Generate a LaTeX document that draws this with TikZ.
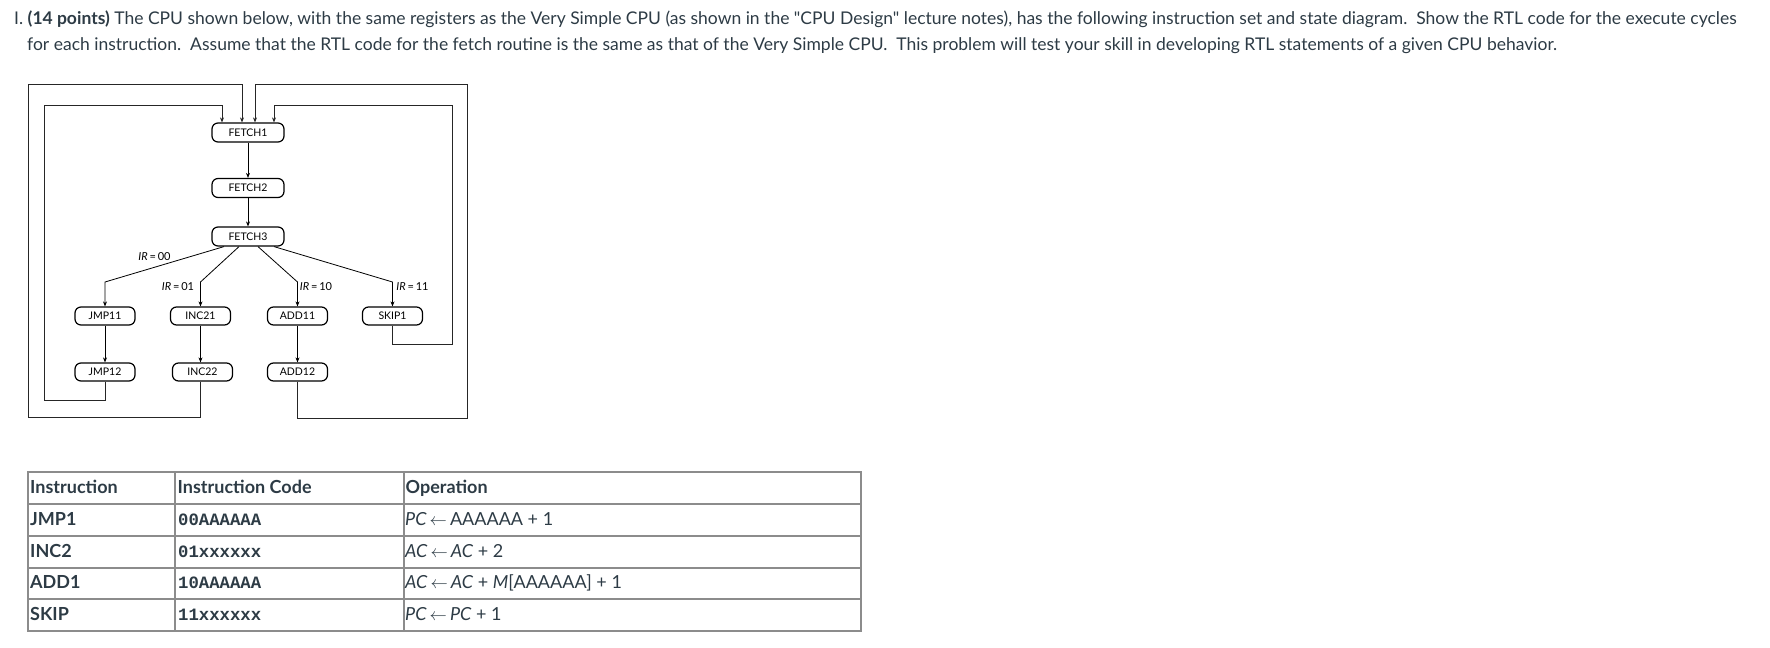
\documentclass[tikz,border=0pt]{standalone}
\usepackage{fontspec}
\setmainfont{Lato}[Ligatures=TeXOff]
\newfontfamily\codefont{Liberation Mono}
\usetikzlibrary{arrows.meta,calc}
\definecolor{canvastext}{HTML}{2D3B45}
\definecolor{tablerule}{HTML}{8C8C8C}
\begin{document}
\begin{tikzpicture}[x=1pt,y=-1pt,
  state/.style={draw=black,line width=1.2pt,rounded corners=6pt,minimum width=60pt,minimum height=18pt,inner sep=0pt,font=\fontsize{10.5}{12}\selectfont},
  fetchstate/.style={state,minimum width=72pt,minimum height=19pt},
  arr/.style={-{Stealth[length=5pt,width=4pt]},line width=0.8pt,draw=black},
  retline/.style={line width=0.8pt,draw=black!85},
  retarr/.style={retline,-{Stealth[length=5pt,width=4pt]}},
  lbl/.style={font=\fontsize{11}{12}\selectfont,inner sep=0pt},
  titletext/.style={anchor=base west,inner sep=0pt,text=canvastext,font=\fontsize{17.5}{22}\selectfont},
  cell/.style={anchor=base west,inner sep=0pt,text=canvastext,font=\fontsize{18}{22}\selectfont},
  headcell/.style={cell,font=\fontsize{18}{22}\selectfont\bfseries},
  codecell/.style={cell,font=\fontsize{17.3}{22}\codefont\bfseries},
  grid/.style={draw=tablerule,line width=1.2pt}
]
\useasboundingbox (0,0) rectangle (1770,648);

% ---------- title text ----------
\node[titletext] (t1) at (14,24) {I. \textbf{(14 points)} The CPU shown below, with the same registers as the Very Simple CPU (as shown in the "CPU Design" lecture notes), has the following instruction set and state diagram.\ \ Show the RTL code for the execute cycles};
\node[titletext] (t2) at (27,50) {for each instruction.\ \ Assume that the RTL code for the fetch routine is the same as that of the Very Simple CPU.\ \ This problem will test your skill in developing RTL statements of a given CPU behavior.};

% ---------- state diagram ----------
\node[fetchstate] (F1) at (248,132.5) {FETCH1};
\node[fetchstate] (F2) at (248,188) {FETCH2};
\node[fetchstate] (F3) at (248,236.5) {FETCH3};

\node[state] (JMP11) at (105,316) {JMP11};
\node[state] (INC21) at (200.5,316) {INC21};
\node[state] (ADD11) at (297.5,316) {ADD11};
\node[state] (SKIP1) at (392.5,316) {SKIP1};

\node[state] (JMP12) at (105,372) {JMP12};
\node[state] (INC22) at (202.5,372) {INC22};
\node[state] (ADD12) at (297.5,372) {ADD12};

\coordinate (bend) at (0,282);
\coordinate (inL) at (44,0);
\coordinate (outL) at (28,0);
\coordinate (inR) at (452,0);
\coordinate (outR) at (467,0);
\coordinate (inTop) at (0,105);
\coordinate (outTop) at (0,84);
\coordinate (jmpBot) at (0,400);
\coordinate (incBot) at (0,417);
\coordinate (addBot) at (0,418);
\coordinate (skipBot) at (0,344);

\draw[arr] (F1) -- (F2);
\draw[arr] (F2) -- (F3);

\draw[arr] ([xshift=-24pt]F3.south) -- (JMP11.north |- bend) -- (JMP11.north);
\draw[arr] ([xshift=-9pt]F3.south) -- (INC21.north |- bend) -- (INC21.north);
\draw[arr] ([xshift=10pt]F3.south) -- (ADD11.north |- bend) -- (ADD11.north);
\draw[arr] ([xshift=26pt]F3.south) -- (SKIP1.north |- bend) -- (SKIP1.north);

\node[lbl] (l00) at (154.5,257) {\textit{IR}\,=\,00};
\node[lbl] (l01) at (178,287) {\textit{IR}\,=\,01};
\node[lbl] (l10) at (316,287) {\textit{IR}\,=\,10};
\node[lbl] (l11) at (412.5,287) {\textit{IR}\,=\,11};

\draw[arr] (JMP11) -- (JMP12);
\draw[arr] (INC21.south) -- (INC21.south |- INC22.north);
\draw[arr] (ADD11) -- (ADD12);

% return loops
\draw[retarr] (JMP12.south) -- (JMP12.south |- jmpBot) -- (inL |- jmpBot) -- (inL |- inTop)
  -- ([xshift=-26pt]F1.north |- inTop) -- ([xshift=-26pt]F1.north);
\draw[retarr] (INC21.south |- INC22.south) -- (INC21.south |- incBot) -- (outL |- incBot) -- (outL |- outTop)
  -- ([xshift=-6pt]F1.north |- outTop) -- ([xshift=-6pt]F1.north);
\draw[retarr] (ADD12.south) -- (ADD12.south |- addBot) -- (outR |- addBot) -- (outR |- outTop)
  -- ([xshift=7pt]F1.north |- outTop) -- ([xshift=7pt]F1.north);
\draw[retarr] (SKIP1.south) -- (SKIP1.south |- skipBot) -- (inR |- skipBot) -- (inR |- inTop)
  -- ([xshift=26pt]F1.north |- inTop) -- ([xshift=26pt]F1.north);

% ---------- table ----------
\draw[grid] (28,472) rectangle (861,631);
\foreach \yy in {504,536,568,599} \draw[grid] (28,\yy) -- (861,\yy);
\draw[grid] (175,472) -- (175,631);
\draw[grid] (404,472) -- (404,631);

\node[headcell] (h1) at (30,493) {Instruction};
\node[headcell] (h2) at (177.5,493) {Instruction Code};
\node[headcell] (h3) at (405.5,493) {Operation};

\node[headcell] (r1a) at (30,525) {JMP1};
\node[codecell] (r1b) at (178,525) {00AAAAAA};
\node[cell] (r1c) at (405,525) {\textit{PC}\,$\leftarrow$\,AAAAAA + 1};

\node[headcell] (r2a) at (30,557) {INC2};
\node[codecell] (r2b) at (178,557) {01xxxxxx};
\node[cell] (r2c) at (405,557) {\textit{AC}\,$\leftarrow$\,\textit{AC} + 2};

\node[headcell] (r3a) at (30,588.5) {ADD1};
\node[codecell] (r3b) at (178,588.5) {10AAAAAA};
\node[cell] (r3c) at (405,588.5) {\textit{AC}\,$\leftarrow$\,\textit{AC} + \textit{M}[AAAAAA] + 1};

\node[headcell] (r4a) at (30,620) {SKIP};
\node[codecell] (r4b) at (178,620) {11xxxxxx};
\node[cell] (r4c) at (405,620) {\textit{PC}\,$\leftarrow$\,\textit{PC} + 1};
\end{tikzpicture}
\end{document}
